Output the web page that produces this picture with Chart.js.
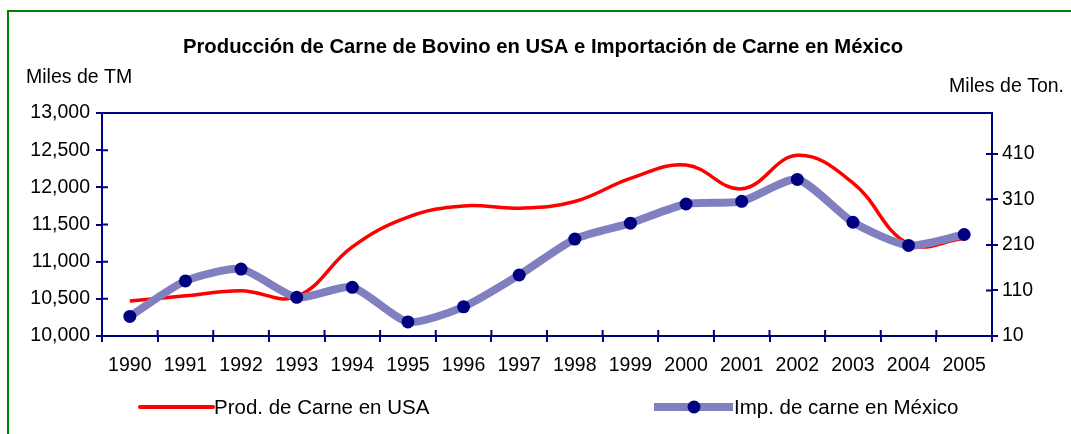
<!DOCTYPE html>
<html>
<head>
<meta charset="utf-8">
<script src="https://cdn.jsdelivr.net/npm/chart.js@4"></script>
<style>
  html, body { margin: 0; padding: 0; background: #fff; overflow: hidden; }
  #chart { display: block; }
</style>
</head>
<body>
<canvas id="chart" width="1071" height="434"></canvas>
<script>
// data
const years = ["1990", "1991", "1992", "1993", "1994", "1995", "1996", "1997",
  "1998", "1999", "2000", "2001", "2002", "2003", "2004", "2005"];
// Prod. de Carne en USA (miles de TM, left axis)
const prodUSA = [10470, 10540, 10610, 10530, 11200, 11600, 11750, 11720,
  11810, 12120, 12300, 11980, 12430, 12060, 11240, 11310];
// Imp. de carne en Mexico (miles de ton., right axis)
const impMexico = [53, 131, 157, 95, 117, 41, 74, 144,
  223, 258, 300, 306, 354, 260, 209, 233];
const leftTicks = [10000, 10500, 11000, 11500, 12000, 12500, 13000];
const rightTicks = [10, 110, 210, 310, 410];

const FONT = "'Liberation Sans', Arial, sans-serif";
const NAVY = "#000080";

// frame, titles, inner tick halves and legend
const decorations = {
  id: "decorations",
  beforeDraw(chart) {
    const ctx = chart.ctx;
    ctx.save();
    ctx.strokeStyle = "#008000";
    ctx.lineWidth = 2;
    ctx.strokeRect(8, 11, 1200, 600);
    ctx.restore();
  },
  afterDraw(chart) {
    const { ctx, chartArea: a, scales } = chart;
    ctx.save();
    ctx.strokeStyle = NAVY;
    ctx.lineWidth = 2;
    // top edge of the plot box
    ctx.beginPath();
    ctx.moveTo(a.left, a.top);
    ctx.lineTo(a.right, a.top);
    ctx.stroke();
    // tick marks crossing the axes (inner half)
    ctx.beginPath();
    scales.y.ticks.forEach((t, i) => {
      const y = scales.y.getPixelForTick(i);
      ctx.moveTo(a.left, y);
      ctx.lineTo(a.left + 6, y);
    });
    scales.y1.ticks.forEach((t, i) => {
      const y = scales.y1.getPixelForTick(i);
      ctx.moveTo(a.right, y);
      ctx.lineTo(a.right - 6, y);
    });
    const step = scales.x.getPixelForValue(1) - scales.x.getPixelForValue(0);
    const x0 = scales.x.getPixelForValue(0) - step / 2;
    for (let k = 0; k <= years.length; k++) {
      ctx.moveTo(x0 + k * step, a.bottom);
      ctx.lineTo(x0 + k * step, a.bottom - 6);
    }
    ctx.stroke();

    // title and unit labels
    ctx.fillStyle = "#000";
    ctx.textBaseline = "alphabetic";
    ctx.font = "bold 20.3px " + FONT;
    ctx.textAlign = "center";
    ctx.fillText("Producción de Carne de Bovino en USA e Importación de Carne en México", 543, 53);
    ctx.font = "19.5px " + FONT;
    ctx.textAlign = "left";
    ctx.fillText("Miles de TM", 26, 83);
    ctx.textAlign = "right";
    ctx.fillText("Miles de Ton.", 1064, 92);

    // legend
    const ds = chart.data.datasets;
    ctx.lineCap = "round";
    ctx.strokeStyle = ds[0].borderColor;
    ctx.lineWidth = 4;
    ctx.beginPath();
    ctx.moveTo(140, 407);
    ctx.lineTo(213, 407);
    ctx.stroke();
    ctx.lineCap = "butt";
    ctx.strokeStyle = ds[1].borderColor;
    ctx.lineWidth = 8;
    ctx.beginPath();
    ctx.moveTo(654, 407);
    ctx.lineTo(733, 407);
    ctx.stroke();
    ctx.fillStyle = ds[1].pointBackgroundColor;
    ctx.beginPath();
    ctx.arc(694, 407, ds[1].pointRadius, 0, Math.PI * 2);
    ctx.fill();
    ctx.fillStyle = "#000";
    ctx.textAlign = "left";
    ctx.font = "20.5px " + FONT;
    ctx.fillText(ds[0].label, 214, 414);
    ctx.fillText(ds[1].label, 734, 414);
    ctx.restore();
  }
};

const axisGrid = {
  drawOnChartArea: false,
  color: NAVY,
  lineWidth: 2,
  tickLength: 6
};
const axisBorder = { color: NAVY, width: 2 };
const tickFont = { family: FONT, size: 19.5 };

new Chart(document.getElementById("chart"), {
  type: "line",
  data: {
    labels: years,
    datasets: [
      {
        label: "Prod. de Carne en USA",
        data: prodUSA,
        yAxisID: "y",
        borderColor: "#FF0000",
        borderWidth: 3.5,
        pointRadius: 0,
        tension: 0.4,
        order: 2
      },
      {
        label: "Imp. de carne en México",
        data: impMexico,
        yAxisID: "y1",
        borderColor: "#8080C0",
        borderWidth: 8,
        pointRadius: 6.5,
        pointBorderWidth: 0,
        pointBackgroundColor: NAVY,
        pointBorderColor: NAVY,
        tension: 0.22,
        order: 1
      }
    ]
  },
  options: {
    responsive: false,
    animation: false,
    devicePixelRatio: 1,
    layout: { padding: { top: 113, bottom: 58, left: 0, right: 0 } },
    plugins: {
      legend: { display: false },
      title: { display: false },
      tooltip: { enabled: false }
    },
    scales: {
      x: {
        offset: true,
        grid: Object.assign({ offset: true }, axisGrid),
        border: axisBorder,
        ticks: { font: tickFont, color: "#000", padding: 12, maxRotation: 0, autoSkip: false },
        afterFit(scale) { scale.height = 40; }
      },
      y: {
        position: "left",
        min: 10000,
        max: 13000,
        grid: axisGrid,
        border: axisBorder,
        ticks: {
          font: tickFont,
          color: "#000",
          padding: 6,
          callback: (v) => v.toLocaleString("en-US")
        },
        afterBuildTicks(scale) { scale.ticks = leftTicks.map((v) => ({ value: v })); },
        afterFit(scale) { scale.width = 102; }
      },
      y1: {
        position: "right",
        min: 10,
        max: 500,
        grid: axisGrid,
        border: axisBorder,
        ticks: { font: tickFont, color: "#000", padding: 4 },
        afterBuildTicks(scale) { scale.ticks = rightTicks.map((v) => ({ value: v })); },
        afterFit(scale) { scale.width = 79; }
      }
    }
  },
  plugins: [decorations]
});
</script>
</body>
</html>
